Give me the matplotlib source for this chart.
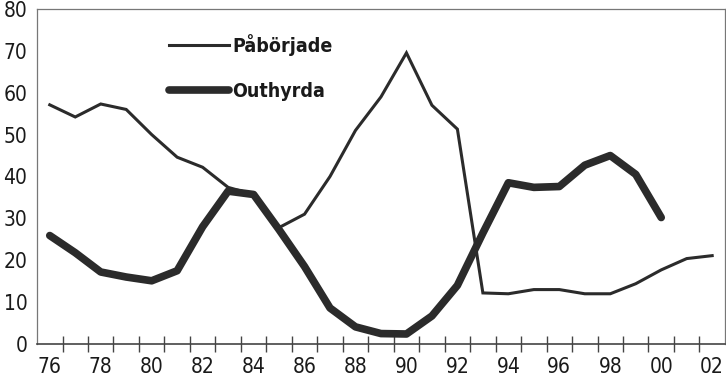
import numpy as np
import matplotlib
matplotlib.use("Agg")
import matplotlib.pyplot as plt

# years, 76..102 (00 = 100, 02 = 102)
years = list(range(76, 103))
paborjade = [57.1, 54.2, 57.3, 56.0, 50.0, 44.6, 42.2, 37.4, 35.7, 27.8,
             31.0, 40.0, 51.0, 59.0, 69.5, 57.0, 51.3, 12.2, 12.0, 13.0,
             13.0, 12.0, 12.0, 14.4, 17.7, 20.4, 21.1]
outhyrda_years = list(range(76, 101))
outhyrda = [25.9, 21.8, 17.2, 16.0, 15.1, 17.5, 28.0, 36.5, 35.7, 27.3,
            18.5, 8.6, 4.1, 2.5, 2.4, 6.7, 14.0, 26.5, 38.5, 37.4,
            37.6, 42.7, 45.0, 40.5, 30.2]
xlabels = ["76", "78", "80", "82", "84", "86", "88", "90", "92", "94",
           "96", "98", "00", "02"]
yticks = list(range(0, 90, 10))

plt.rcParams['font.family'] = ['DejaVu Sans']
plt.rcParams['font.stretch'] = 'condensed'
col = "#2b2b2b"

fig = plt.figure(figsize=(7.26, 3.87), dpi=100)
ax = fig.add_axes([0.051, 0.111, 0.9475, 0.866])

ax.plot(years, paborjade, color=col, lw=2.2, label="Påbörjade",
        solid_joinstyle="miter")
ax.plot(outhyrda_years, outhyrda, color=col, lw=5.5, label="Outhyrda",
        solid_capstyle="round")

ax.set_xlim(75.5, 102.5)
ax.set_ylim(0, 80)

# tick marks between the years, labels on even years
ax.set_xticks(np.arange(76.5, 102, 1.0))
ax.set_xticklabels([])
ax.tick_params(axis="x", which="major", direction="inout", length=12,
               width=1.0, color="#444444")
ax.set_xticks(np.arange(76, 103, 2), minor=True)
ax.set_xticklabels(xlabels, minor=True)
ax.tick_params(axis="x", which="minor", length=0, pad=9, labelsize=15,
               labelcolor="#1a1a1a")

ax.set_yticks(yticks)
ax.set_yticklabels([str(v) for v in yticks])
ax.tick_params(axis="y", length=0, pad=7, labelsize=15, labelcolor="#1a1a1a")

for s in ["top", "right", "left"]:
    ax.spines[s].set_color("#777777")
    ax.spines[s].set_linewidth(0.9)
ax.spines["bottom"].set_color("#444444")
ax.spines["bottom"].set_linewidth(1.2)

leg = ax.legend(loc="upper left", bbox_to_anchor=(0.166, 0.978), frameon=False,
                handlelength=3.1, handletextpad=0.15, labelspacing=1.35,
                prop={"size": 14, "weight": "bold", "stretch": "condensed"})
for t in leg.get_texts():
    t.set_color("#1a1a1a")

fig.savefig("out.png", dpi=100)
